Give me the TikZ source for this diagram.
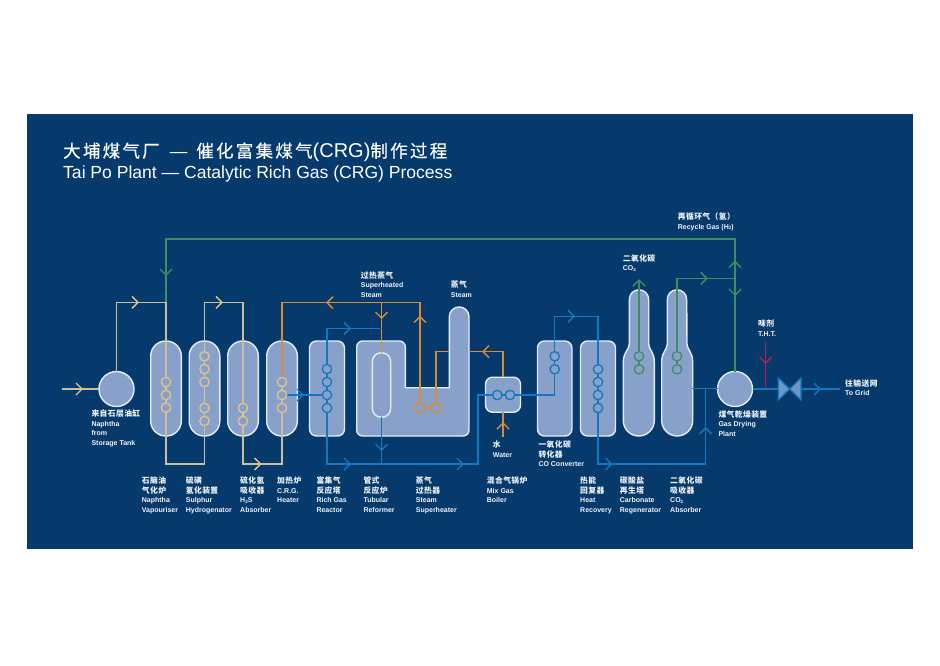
\documentclass[tikz,border=0pt]{standalone}
\usepackage{fontspec}
\setmainfont{Liberation Sans}
\newfontfamily\cjk{Noto Sans CJK SC}[LetterSpace=5]
\newfontfamily\cjktitle{Noto Sans CJK SC}[LetterSpace=13,FakeBold=0.4]
\newcommand{\zh}[1]{{\cjk\fontsize{7.8}{9.5}\selectfont #1}}
\newcommand{\two}{\raisebox{-0.5pt}{\fontsize{4.6}{5}\selectfont 2}}
\newcommand{\chev}[4]{\draw[#1,shift={(#2,#3)},rotate=#4] (-6,-6) -- (0,0) -- (-6,6);}
\definecolor{navy}{HTML}{063A6D}
\definecolor{vesselfill}{HTML}{88A1CA}
\definecolor{rim}{HTML}{E6ECF4}
\definecolor{tanline}{HTML}{CDBF9C}
\definecolor{tancoil}{HTML}{E5C388}
\definecolor{orangeline}{HTML}{DA8B38}
\definecolor{blueline}{HTML}{1577BD}
\definecolor{greenline}{HTML}{3F8E63}
\definecolor{thtred}{HTML}{B51F48}
\definecolor{labeltext}{HTML}{F0F3F8}
\pgfdeclarelayer{vessels}
\pgfdeclarelayer{lines}
\pgfsetlayers{vessels,lines,main}
\tikzset{
  x=1pt,y=-1pt,
  vessel/.style={draw=rim,fill=vesselfill,line width=1.4pt,inner sep=0,outer sep=0,rounded corners=#1},
  vessel/.default=7pt,
  drum/.style={draw=rim,fill=vesselfill,line width=1.4pt,circle,inner sep=0,outer sep=0,minimum size=35pt},
  coil/.style={draw=#1,fill=vesselfill,line width=1.3pt,circle,inner sep=0,outer sep=0,minimum size=9.4pt},
  flow/.style={draw=#1,line width=1.4pt,line join=miter},
  lbl/.style={text=labeltext,anchor=north west,inner sep=0,align=left,font=\fontsize{7}{9.5}\selectfont\bfseries},
}
\begin{document}
\begin{tikzpicture}
\useasboundingbox (0,0) rectangle (940,665);
\begin{pgfonlayer}{vessels}
\fill[white] (0,0) rectangle (940,665);
\fill[navy] (27,114) rectangle (913,549);
\node[drum] (tank) at (116.5,389) {};
\node[drum] (plant) at (735,389) {};
\node[vessel=15pt,minimum width=30.6pt,minimum height=95pt] (vap) at (166,388.5) {};
\node[vessel=15pt,minimum width=30.6pt,minimum height=95pt] (hyd) at (204.5,388.5) {};
\node[vessel=15pt,minimum width=30.6pt,minimum height=95pt] (abs) at (243,388.5) {};
\node[vessel=15pt,minimum width=30.6pt,minimum height=95pt] (heat) at (282,388.5) {};
\node[vessel=7pt,minimum width=35pt,minimum height=95pt] (rich) at (327,388.5) {};
\node[vessel=7pt,minimum width=34.5pt,minimum height=95pt] (conv) at (554.7,388.5) {};
\node[vessel=7pt,minimum width=35pt,minimum height=95pt] (rec) at (598,388.5) {};
\node[vessel=7pt,minimum width=35pt,minimum height=35pt] (boil) at (503,394.7) {};
% tubular reformer and superheater body
\draw[draw=rim,fill=vesselfill,line width=1.4pt]
  (405.3,370) -- (405.3,387.7) -- (449.3,387.7)
  -- (449.3,316.8) arc[start angle=180,end angle=0,x radius=9.85,y radius=-9.85]
  [rounded corners=6pt] -- (469.0,436) -- (356.7,436) -- (356.7,341) -- (405.3,341) -- cycle;
\node[vessel=9pt,minimum width=18.4pt,minimum height=64.6pt] (tube) at (381.5,385) {};
% bottle shaped regenerator and absorber
\draw[draw=rim,fill=vesselfill,line width=1.4pt]
  (629.3,299.5) arc[start angle=180,end angle=0,x radius=9.7,y radius=-9.7]
  -- (648.7,344) .. controls (649,350) and (654.3,352) .. (654.3,362)
  -- (654.3,420.5) arc[start angle=0,end angle=-180,x radius=15.5,y radius=-15.5]
  -- (623.3,362) .. controls (623.3,352) and (629,350) .. (629.3,344) -- cycle;
\draw[draw=rim,fill=vesselfill,line width=1.4pt]
  (667.3,299.5) arc[start angle=180,end angle=0,x radius=9.7,y radius=-9.7]
  -- (687,344) .. controls (687.3,350) and (692.7,352) .. (692.7,362)
  -- (692.7,420.5) arc[start angle=0,end angle=-180,x radius=15.5,y radius=-15.5]
  -- (661.7,362) .. controls (661.7,352) and (667,350) .. (667.3,344) -- cycle;
\end{pgfonlayer}
% coils
\foreach \n/\xx/\yy in {v1/166/382,v2/166/395,v3/166/407.7,
  h1/204.5/356.3,h2/204.5/369,h3/204.5/382,h4/204.5/408,h5/204.5/421,
  a1/243/408,a2/243/421,
  q1/282/382,q2/282/395,q3/282/408}
  \node[coil=tancoil] (\n) at (\xx,\yy) {};
\foreach \n/\xx/\yy in {r1/327/369,r2/327/382,r3/327/395,r4/327/408,
  b1/497.3/395,b2/510/395,
  c1/554.7/356.3,c2/554.7/369.3,
  e1/598/369.3,e2/598/382,e3/598/395,e4/598/408}
  \node[coil=blueline] (\n) at (\xx,\yy) {};
\node[coil=orangeline,minimum size=10.6pt] (s1) at (420,408) {};
\node[coil=orangeline,minimum size=10.6pt] (s2) at (436,408) {};
\foreach \n/\xx/\yy in {g1/639/356.3,g2/639/369.3,k1/677/356.3,k2/677/369.3}
  \node[coil=greenline] (\n) at (\xx,\yy) {};
% free ends and waypoints
\coordinate (inlet) at (62,389);
\coordinate (tl1) at (166,302.3);
\coordinate (tl2) at (243,302.3);
\coordinate (sh) at (381.5,302.7);
\coordinate (sh2) at (420,302.7);
\coordinate (bluetop) at (327,328.3);
\coordinate (bluebot) at (327,464);
\coordinate (reformout) at (381.5,464);
\coordinate (risebase) at (478,464);
\coordinate (towerL) at (449.3,351.7);
\coordinate (towerR) at (469,351.7);
\coordinate (waterin) at (503,436.7);
\coordinate (convtop) at (554.7,316.3);
\coordinate (gridend) at (840,389);
\coordinate (thtin) at (765.7,341.7);
\coordinate (recy) at (735,239);
\coordinate (recyL) at (166,239);
\coordinate (co2top) at (639,280);
\coordinate (absjoin) at (735,278.3);
\coordinate (absout) at (691.7,388.7);
\coordinate (hrjoin) at (705.7,388.7);
\coordinate (lowA) at (166,464);
\coordinate (lowB) at (243,464);
\begin{pgfonlayer}{lines}
% naphtha path
\draw[flow=tanline] (inlet) -- (tank.west);
\draw[flow=tanline] (tank.north) |- (tl1) -- (v3.center) -- (lowA) -| (h5.center);
\draw[flow=tanline] (h5.center) -- (204.5,302.3) -| (a2.center);
\draw[flow=tanline] (a2.center) -- (lowB) -| (q3.center);
\draw[flow=tanline] (q1.center) -- (q3.center);
\foreach \p/\q in {v1/v3,h1/h3,h3/h5,a1/a2} \draw[flow=tancoil] (\p.center) -- (\q.center);
\chev{flow=tancoil}{82}{389}{0}
\chev{flow=tancoil}{138}{302.3}{0}
\chev{flow=tancoil}{222}{302.3}{0}
\chev{flow=tancoil}{260.7}{464}{0}
% orange steam
\draw[flow=orangeline] (q1.north) |- (sh2) -- (s1.north);
\draw[flow=orangeline] (sh) -- (tube.north);
\draw[flow=orangeline] (s2.north) |- (towerL);
\draw[flow=orangeline] (towerR) -| (boil.north);
\draw[flow=orangeline] (waterin) -- (boil.south);
\draw[flow=orangeline] (s1) -- (s2);
\chev{flow=orangeline}{327}{302.7}{180}
\chev{flow=orangeline}{381.5}{318}{270}
\chev{flow=orangeline}{420}{316.7}{90}
\chev{flow=orangeline}{483}{351.7}{180}
\chev{flow=orangeline}{503}{423}{90}
% blue process gas
\draw[flow=blueline] (q2.east) -- (r3.west);
\draw[flow=blueline] (r4.center) -- (bluetop) -- (sh |- bluetop);
\draw[flow=blueline] (r4.south) -- (bluebot) -- (risebase) |- (b1.west);
\draw[flow=blueline] (tube.south) -- (reformout);
\draw[flow=blueline] (b1.east) -- (b2.west);
\draw[flow=blueline] (b2.east) -| (c2.south);
\draw[flow=blueline] (c2.north) -- (c1.south);
\draw[flow=blueline] (c1.north) |- (convtop) -| (e1.north);
\draw[flow=blueline] (e1) -- (e4);
\draw[flow=blueline] (e4.south) |- (hrjoin |- 0,464) -- (hrjoin);
\draw[flow=blueline] (absout) -- (plant.west |- absout);
\draw[flow=blueline] (plant.east) -- (gridend);
\foreach \p/\q in {r1/r2,r2/r3,r3/r4} \draw[flow=blueline] (\p) -- (\q);
\chev{flow=blueline}{303}{395}{0}
\chev{flow=blueline}{350}{328.3}{0}
\chev{flow=blueline}{350}{464}{0}
\chev{flow=blueline}{463}{464}{0}
\chev{flow=blueline}{381.5}{450}{270}
\chev{flow=blueline}{574}{316.3}{0}
\chev{flow=blueline}{611.7}{464}{0}
\chev{flow=blueline}{705.7}{428}{90}
\chev{flow=blueline}{820}{389}{0}
% green
\draw[flow=greenline] (g1.north) -- (co2top);
\draw[flow=greenline] (g1) -- (g2);
\draw[flow=greenline] (k1) -- (k2);
\draw[flow=greenline] (k1.north) |- (absjoin);
\draw[flow=greenline] (plant.north) -- (recy) -- (recyL) -- (tl1);
\chev{flow=greenline}{639}{280}{90}
\chev{flow=greenline}{706.7}{278.3}{0}
\chev{flow=greenline}{735}{261.7}{90}
\chev{flow=greenline}{735}{295}{270}
\chev{flow=greenline}{166}{275}{270}
% T.H.T.
\draw[flow=thtred] (thtin) -- (thtin |- plant);
\chev{flow=thtred}{765.7}{363}{270}
\end{pgfonlayer}
% valve
\draw[draw=blueline,fill=vesselfill!75!blueline,line width=1.2pt] (778.3,378) -- (801,400) -- (801,378) -- (778.3,400) -- cycle;
% title
\node[anchor=west,inner sep=0,text=white] (title1) at (63,152) {\fontsize{17.5}{20}\selectfont{\cjktitle 大埔煤气厂}\hspace{10pt}—\hspace{9pt}{\cjktitle 催化富集煤气}{\fontsize{20}{20}\selectfont(CRG)}{\cjktitle 制作过程}};
\node[anchor=west,inner sep=0,text=white] (title2) at (63,174) {\fontsize{17.55}{20}\selectfont Tai Po Plant — Catalytic Rich Gas (CRG) Process};
% labels
\node[lbl] (ltank) at (91.3,410) {\zh{来自石层油缸}\\Naphtha\\from\\Storage Tank};
\node[lbl] (lvap) at (141.7,477) {\zh{石脑油}\\\zh{气化炉}\\Naphtha\\Vapouriser};
\node[lbl] (lhyd) at (185.7,477) {\zh{硫磺}\\\zh{氢化装置}\\Sulphur\\Hydrogenator};
\node[lbl] (labs) at (240,477) {\zh{硫化氢}\\\zh{吸收器}\\H\two S\\Absorber};
\node[lbl] (lheat) at (277,477) {\zh{加热炉}\\C.R.G.\\Heater};
\node[lbl] (lrich) at (316.3,477) {\zh{富集气}\\\zh{反应塔}\\Rich Gas\\Reactor};
\node[lbl] (ltub) at (363.3,477) {\zh{管式}\\\zh{反应炉}\\Tubular\\Reformer};
\node[lbl] (lsup) at (415.7,477) {\zh{蒸气}\\\zh{过热器}\\Steam\\Superheater};
\node[lbl] (lmix) at (486.7,477) {\zh{混合气锅炉}\\Mix Gas\\Boiler};
\node[lbl] (lwat) at (492.7,441) {\zh{水}\\Water};
\node[lbl] (lconv) at (538.3,441) {\zh{一氧化碳}\\\zh{转化器}\\CO Converter};
\node[lbl] (lrec) at (580,477) {\zh{热能}\\\zh{回复器}\\Heat\\Recovery};
\node[lbl] (lcar) at (619.7,477) {\zh{碳酸盐}\\\zh{再生塔}\\Carbonate\\Regenerator};
\node[lbl] (lco2a) at (670,477) {\zh{二氧化碳}\\\zh{吸收器}\\CO\two\\Absorber};
\node[lbl] (lsh) at (360.7,271.5) {\zh{过热蒸气}\\Superheated\\Steam};
\node[lbl] (lst) at (450.7,281) {\zh{蒸气}\\Steam};
\node[lbl] (lco2) at (622.7,254.5) {\zh{二氧化碳}\\CO\two};
\node[lbl] (lrcy) at (677.7,213) {\zh{再循环气（氢）}\\Recycle Gas (H\two)};
\node[lbl] (ltht) at (758,320) {\zh{味剂}\\T.H.T.};
\node[lbl] (lpl) at (718.3,410.5) {\zh{煤气乾燥装置}\\Gas Drying\\Plant};
\node[lbl] (lgrid) at (845,379.5) {\zh{往输送网}\\To Grid};
\end{tikzpicture}
\end{document}
